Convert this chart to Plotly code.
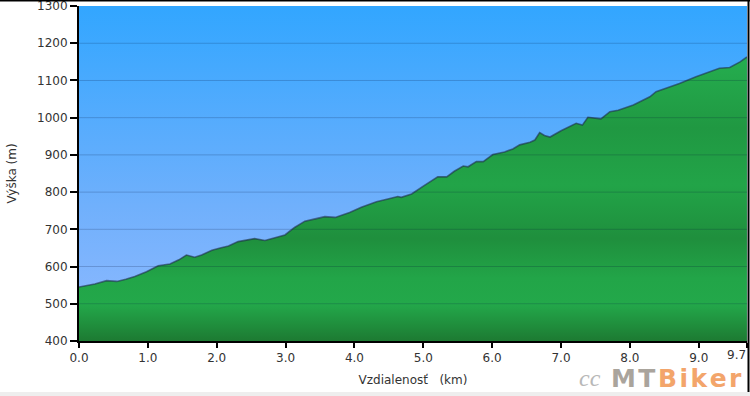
import plotly.graph_objects as go

# ---- data ----
dist_km = [0.0, 0.12, 0.23, 0.40, 0.55, 0.68, 0.81, 0.98, 1.15, 1.32, 1.45, 1.56, 1.68, 1.78,
           1.93, 2.05, 2.17, 2.31, 2.55, 2.70, 2.84, 2.99, 3.13, 3.28, 3.43, 3.57, 3.72,
           3.93, 4.10, 4.32, 4.50, 4.63, 4.68, 4.83, 5.00, 5.21, 5.34, 5.45, 5.58, 5.65,
           5.77, 5.87, 6.01, 6.18, 6.30, 6.40, 6.55, 6.62, 6.69, 6.76, 6.84, 7.00, 7.22,
           7.31, 7.39, 7.58, 7.71, 7.83, 8.05, 8.29, 8.38, 8.55, 8.72, 8.96, 9.15, 9.30,
           9.45, 9.60, 9.70]
elev_m = [545, 549, 553, 562, 560, 566, 573, 586, 602, 607, 618, 631, 625, 631,
          644, 650, 655, 667, 675, 670, 678, 685, 705, 722, 728, 734, 732,
          745, 759, 774, 782, 788, 786, 795, 816, 841, 841, 856, 870, 868,
          882, 882, 901, 908, 916, 927, 934, 940, 960, 952, 948, 965, 985,
          980, 1001, 997, 1016, 1020, 1034, 1056, 1070, 1080, 1092, 1110, 1122, 1133,
          1135, 1150, 1163]

x_tickvals = [0, 1, 2, 3, 4, 5, 6, 7, 8, 9, 9.7]
x_ticktext = ["0.0", "1.0", "2.0", "3.0", "4.0", "5.0", "6.0", "7.0", "8.0", "9.0", ""]
x_last_label = "9.7"
y_tickvals = [400, 500, 600, 700, 800, 900, 1000, 1100, 1200, 1300]

X_MAX = 9.7
Y_MIN, Y_MAX = 400, 1300

# ---- layout constants ----
W, H = 750, 396
ML, MR, MT, MB = 79, 3, 6, 55
PW, PH = W - ML - MR, H - MT - MB
FONT = "DejaVu Sans, Verdana, sans-serif"
HAIR = "\u200a"


def px_x(p):  # figure pixel -> paper x
    return (p - ML) / PW


def px_y(p):  # figure pixel (from top) -> paper y
    return (MT + PH - p) / PH


fig = go.Figure()

# sky background with vertical gradient
fig.add_trace(go.Scatter(
    x=[0, X_MAX, X_MAX, 0, 0], y=[Y_MIN, Y_MIN, Y_MAX, Y_MAX, Y_MIN],
    mode="none", fill="toself",
    fillgradient=dict(type="vertical", start=Y_MIN, stop=Y_MAX,
                      colorscale=[[0, "rgb(145,186,255)"], [0.4, "rgb(112,176,252)"],
                                  [1, "rgb(50,166,255)"]]),
    hoverinfo="skip", showlegend=False))

# elevation profile
fig.add_trace(go.Scatter(
    x=dist_km, y=elev_m, mode="lines",
    line=dict(color="rgba(30,45,75,0.6)", width=1.6),
    fill="tozeroy",
    fillgradient=dict(type="vertical", start=Y_MIN, stop=max(elev_m),
                      colorscale=[[0, "rgb(29,122,50)"], [0.13, "rgb(35,168,74)"],
                                  [0.22, "rgb(34,165,72)"], [0.36, "rgb(31,143,61)"],
                                  [0.55, "rgb(34,164,72)"], [0.75, "rgb(32,152,66)"],
                                  [1, "rgb(37,174,79)"]]),
    hoverinfo="skip", showlegend=False))

shapes = []
# grid lines above fills
for v in y_tickvals[1:-1]:
    shapes.append(dict(type="line", xref="paper", yref="y", x0=0, x1=1, y0=v, y1=v,
                       line=dict(color="rgba(0,20,60,0.2)", width=1), layer="above"))
# frame lines of the picture
shapes.append(dict(type="line", xref="paper", yref="paper", x0=px_x(0), x1=px_x(W),
                   y0=px_y(0.75), y1=px_y(0.75),
                   line=dict(color="black", width=1.5), layer="above"))
shapes.append(dict(type="line", xref="paper", yref="paper", x0=px_x(748.5), x1=px_x(748.5),
                   y0=px_y(392), y1=px_y(0),
                   line=dict(color="black", width=2), layer="above"))
# light strip at bottom
shapes.append(dict(type="rect", xref="paper", yref="paper", x0=px_x(0), x1=px_x(W),
                   y0=px_y(H), y1=px_y(392), line=dict(width=0),
                   fillcolor="#eeeeee", layer="below"))

logo_mt = HAIR.join("MT")
logo_biker = HAIR.join("Biker")

annotations = [
    dict(text=x_last_label, xref="paper", yref="paper", x=px_x(748), y=px_y(346),
         xanchor="right", yanchor="top", showarrow=False,
         font=dict(family=FONT, size=12, color="#333333")),
    dict(text="<i>cc</i>", xref="paper", yref="paper", x=px_x(590), y=px_y(378),
         xanchor="center", yanchor="middle", showarrow=False,
         font=dict(family="Liberation Serif", size=24, color="#b8b8b8")),
    dict(text="<b><span style='color:#aaa49c'>" + logo_mt + HAIR
         + "</span><span style='color:#f3a56b'>" + logo_biker + "</span></b>",
         xref="paper", yref="paper", x=px_x(744), y=px_y(378),
         xanchor="right", yanchor="middle", showarrow=False,
         font=dict(family="DejaVu Sans", size=25, color="#f3a56b")),
]

fig.update_layout(
    width=W, height=H,
    margin=dict(l=ML, r=MR, t=MT, b=MB, pad=0, autoexpand=False),
    paper_bgcolor="white", plot_bgcolor="rgb(110,175,252)",
    font=dict(family=FONT, size=12, color="#333333"),
    shapes=shapes, annotations=annotations,
    xaxis=dict(range=[0, X_MAX + 0.001], tickvals=x_tickvals, ticktext=x_ticktext,
               automargin=False, ticklabeloverflow="allow",
               showgrid=False, zeroline=False, showline=True, linecolor="black", linewidth=2,
               ticks="outside", ticklen=5, tickwidth=2, tickcolor="black",
               title=dict(text="Vzdialenosť&nbsp;&nbsp;&nbsp;(km)", standoff=11,
                          font=dict(size=12, color="#333333")),
               layer="above traces"),
    yaxis=dict(range=[Y_MIN - 0.1, Y_MAX + 0.1], tickvals=y_tickvals,
               automargin=False, ticklabeloverflow="allow",
               showgrid=False, zeroline=False, showline=True, linecolor="black", linewidth=2,
               ticks="outside", ticklen=7, tickwidth=2, tickcolor="black",
               title=dict(text="Výška (m)", standoff=18, font=dict(size=12, color="#333333")),
               layer="above traces"),
)

fig.write_html("out.html", config={"displayModeBar": False},
               post_script="document.body.style.margin='0';document.body.style.overflow='hidden';")
